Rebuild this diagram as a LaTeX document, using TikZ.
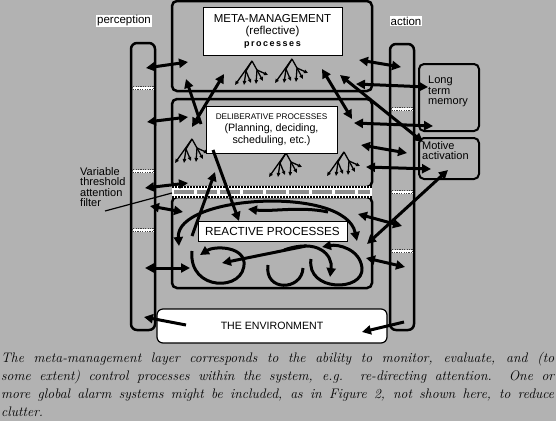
\documentclass[tikz,border=0pt]{standalone}
\usepackage{fontspec}
\newfontfamily\diagsans{Liberation Sans}
\usetikzlibrary{arrows.meta,positioning,calc}
\definecolor{bgGray}{RGB}{178,178,178}
\newcommand{\fsz}[2]{\fontsize{#1}{#2}\selectfont}
\newcommand{\branchicon}[1]{%
  \begin{scope}[shift={#1}]
    \draw[twig] (0,0) -- (-17,24);
    \draw[twig] (0,0) -- (-6,10) -- (-8,24);
    \draw[twig] (-6,10) -- (-1,22);
    \draw[twig] (0,0) -- (5,9) -- (4,23);
    \draw[twig] (5,9) -- (11,20);
    \draw[twig] (5,9) -- (16,14);
  \end{scope}}

\begin{document}
\begin{tikzpicture}[x=1pt,y=-1pt,font=\diagsans,
    layer/.style={draw,line width=2.5pt,rounded corners=5pt,minimum width=200pt,inner sep=0pt},
    column/.style={draw,line width=2.5pt,rounded corners=6pt,minimum width=24pt,inner sep=0pt},
    tbox/.style={draw,fill=white,line width=1pt,align=center,inner sep=2pt},
    sidebox/.style={draw,line width=2pt,rounded corners=5pt,minimum width=60pt,inner sep=0pt},
    sidetxt/.style={align=left,inner sep=0pt,font=\diagsans\fsz{11}{10.5}},
    lbl/.style={fill=white,inner sep=1pt,font=\diagsans\fsz{11.5}{12}},
    colmark/.style={fill=white,draw=black!75,line width=0.7pt,dash pattern=on 1.2pt off 1.2pt,minimum width=21pt,minimum height=3pt,inner sep=0pt},
    arr/.style={{Triangle[length=9pt,width=9pt]}-{Triangle[length=9pt,width=9pt]},line width=3pt},
    arr1/.style={-{Triangle[length=9pt,width=9pt]},line width=3pt},
    twig/.style={-{Triangle[length=4pt,width=3.5pt]},line width=1.3pt}
  ]
  \fill[bgGray] (0,0) rectangle (556,421);
  \useasboundingbox (0,0) rectangle (556,421);

  % side columns
  \node[column,minimum height=287pt] (perc) at (143,186.5) {};
  \node[column,minimum height=286pt] (act) at (402,187) {};
  \node[lbl] (perclbl) at (124,21) {perception};
  \node[lbl] (actlbl) at (406,21) {action};
  \foreach \y in {88,171,230} \node[colmark] (pm\y) at (143,\y) {};
  \foreach \y in {109,192,251} \node[colmark] (am\y) at (402,\y) {};

  % the three layers
  \node[layer,minimum height=90pt] (meta) at (272,46) {};
  \node[layer,minimum height=88pt] (delib) at (272,143) {};
  \node[layer,minimum height=91pt] (react) at (272,242.5) {};

  % attention filter
  \fill[white] (172,186) rectangle (372,198);
  \draw[line width=1.5pt,dash pattern=on 2pt off 1pt] (172,187) -- (372,187) (172,197) -- (372,197);
  \draw[black!45,line width=4pt,dash pattern=on 20pt off 3pt] (174,192) -- (370,192);

  % side boxes
  \node[sidebox,minimum height=67pt] (ltm) at (449,97.5) {};
  \node[sidetxt,anchor=north west] (ltmtxt) at ([shift={(10,13)}]ltm.north west) {Long\\term\\memory};
  \node[sidebox,minimum height=41pt] (motive) at (449,158.5) {};
  \node[sidetxt,anchor=north west] (motivetxt) at ([shift={(4,4)}]motive.north west) {Motive\\activation};

  % branching processes
  \branchicon{(252,61)}
  \branchicon{(292,59)}
  \branchicon{(192,139)}
  \branchicon{(286,153)}
  \branchicon{(344,152)}

  % layer labels
  \node[tbox,minimum width=139pt,minimum height=48pt] (metatxt) at (272.5,31)
    {{\fsz{11.5}{13}META-MANAGEMENT}\\{\fsz{11.5}{13}(reflective)}\\{\bfseries\fsz{9}{13}p\,r\,o\,c\,e\,s\,s\,e\,s}};
  \node[tbox,minimum width=131pt,minimum height=47pt] (delibtxt) at (271.5,129.5)
    {{\fsz{8.2}{11}DELIBERATIVE PROCESSES}\\{\fsz{10.7}{11}(Planning, deciding,}\\{\fsz{10.7}{11}scheduling, etc.)}};
  \node[tbox,minimum width=149pt,minimum height=20pt,font=\diagsans\fsz{11.7}{12}] (reacttxt) at (272.5,231) {REACTIVE PROCESSES};
  \node[draw,fill=white,line width=1.2pt,rounded corners=6pt,minimum width=230pt,minimum height=34pt,
    font=\diagsans\fsz{10.6}{12}] (env) at (272,326) {THE ENVIRONMENT};

  % filter label
  \node[sidetxt,anchor=north west] (filtertxt) at (80,167) {Variable\\threshold\\attention\\filter};
  \draw[line width=1.2pt] (105,211) -- (172,193);

  % perception side
  \draw[arr] (146,68) -- (188,62);
  \draw[arr] (147,122) -- (188,117);
  \draw[arr] (145,188) -- (188,183);
  \draw[arr] (150,206) -- (183,212);
  \draw[arr] (145,268) -- (190,268);

  % between meta and deliberative
  \draw[arr1] (201,124) -- (186,79);
  \draw[arr] (192,127) -- (224,74);
  \draw[arr] (322,69) -- (352,119);
  \draw[arr] (340,75) -- (423,142);

  % action side
  \draw[arr] (359,60) -- (401,67);
  \draw[arr] (356,84) -- (428,87);
  \draw[arr] (354,123) -- (433,126);
  \draw[arr] (361,145) -- (407,153);
  \draw[arr] (366,167) -- (431,169);
  \draw[arr] (358,214) -- (402,226);
  \draw[arr] (366,258) -- (405,267);
  \draw[arr] (367,244) -- (448,170);

  % across the filter
  \draw[arr1] (213,150) -- (239,221);
  \draw[arr1] (192,236) -- (215,172);

  % reactive loops
  \draw[arr] (179,246) .. controls (175,195) and (345,185) .. (357,241);
  \draw[arr1] (328,212) .. controls (300,206) and (272,212) .. (248,209);
  \draw[arr1] (192,251) .. controls (188,292) and (246,292) .. (244,262)
    .. controls (242,246) and (214,246) .. (200,255);
  \draw[arr1] (306,246) -- (222,263);
  \draw[line width=3pt] (268,265) .. controls (264,292) and (302,291) .. (303,268);
  \draw[arr1] (284,250) .. controls (318,238) and (333,255) .. (330,277);
  \draw[arr1] (311,259) .. controls (306,292) and (364,292) .. (362,268)
    .. controls (360,249) and (338,244) .. (322,247);

  % environment
  \draw[arr1] (186,325) -- (144,317);
  \draw[arr1] (404,322) -- (362,332);

  % caption
  \node[anchor=north west,inner sep=0pt,text width=553pt,align=justify,
    font=\rmfamily\itshape\fsz{13.8}{18}] (caption) at (1,351.5)
    {The meta-management layer corresponds to the ability to monitor, evaluate, and (to\linebreak
     some extent) control processes within the system, e.g.\ \ re-directing attention.\ \ One or\linebreak
     more global alarm systems might be included, as in Figure 2, not shown here, to reduce\linebreak
     clutter.};
\end{tikzpicture}
\end{document}
